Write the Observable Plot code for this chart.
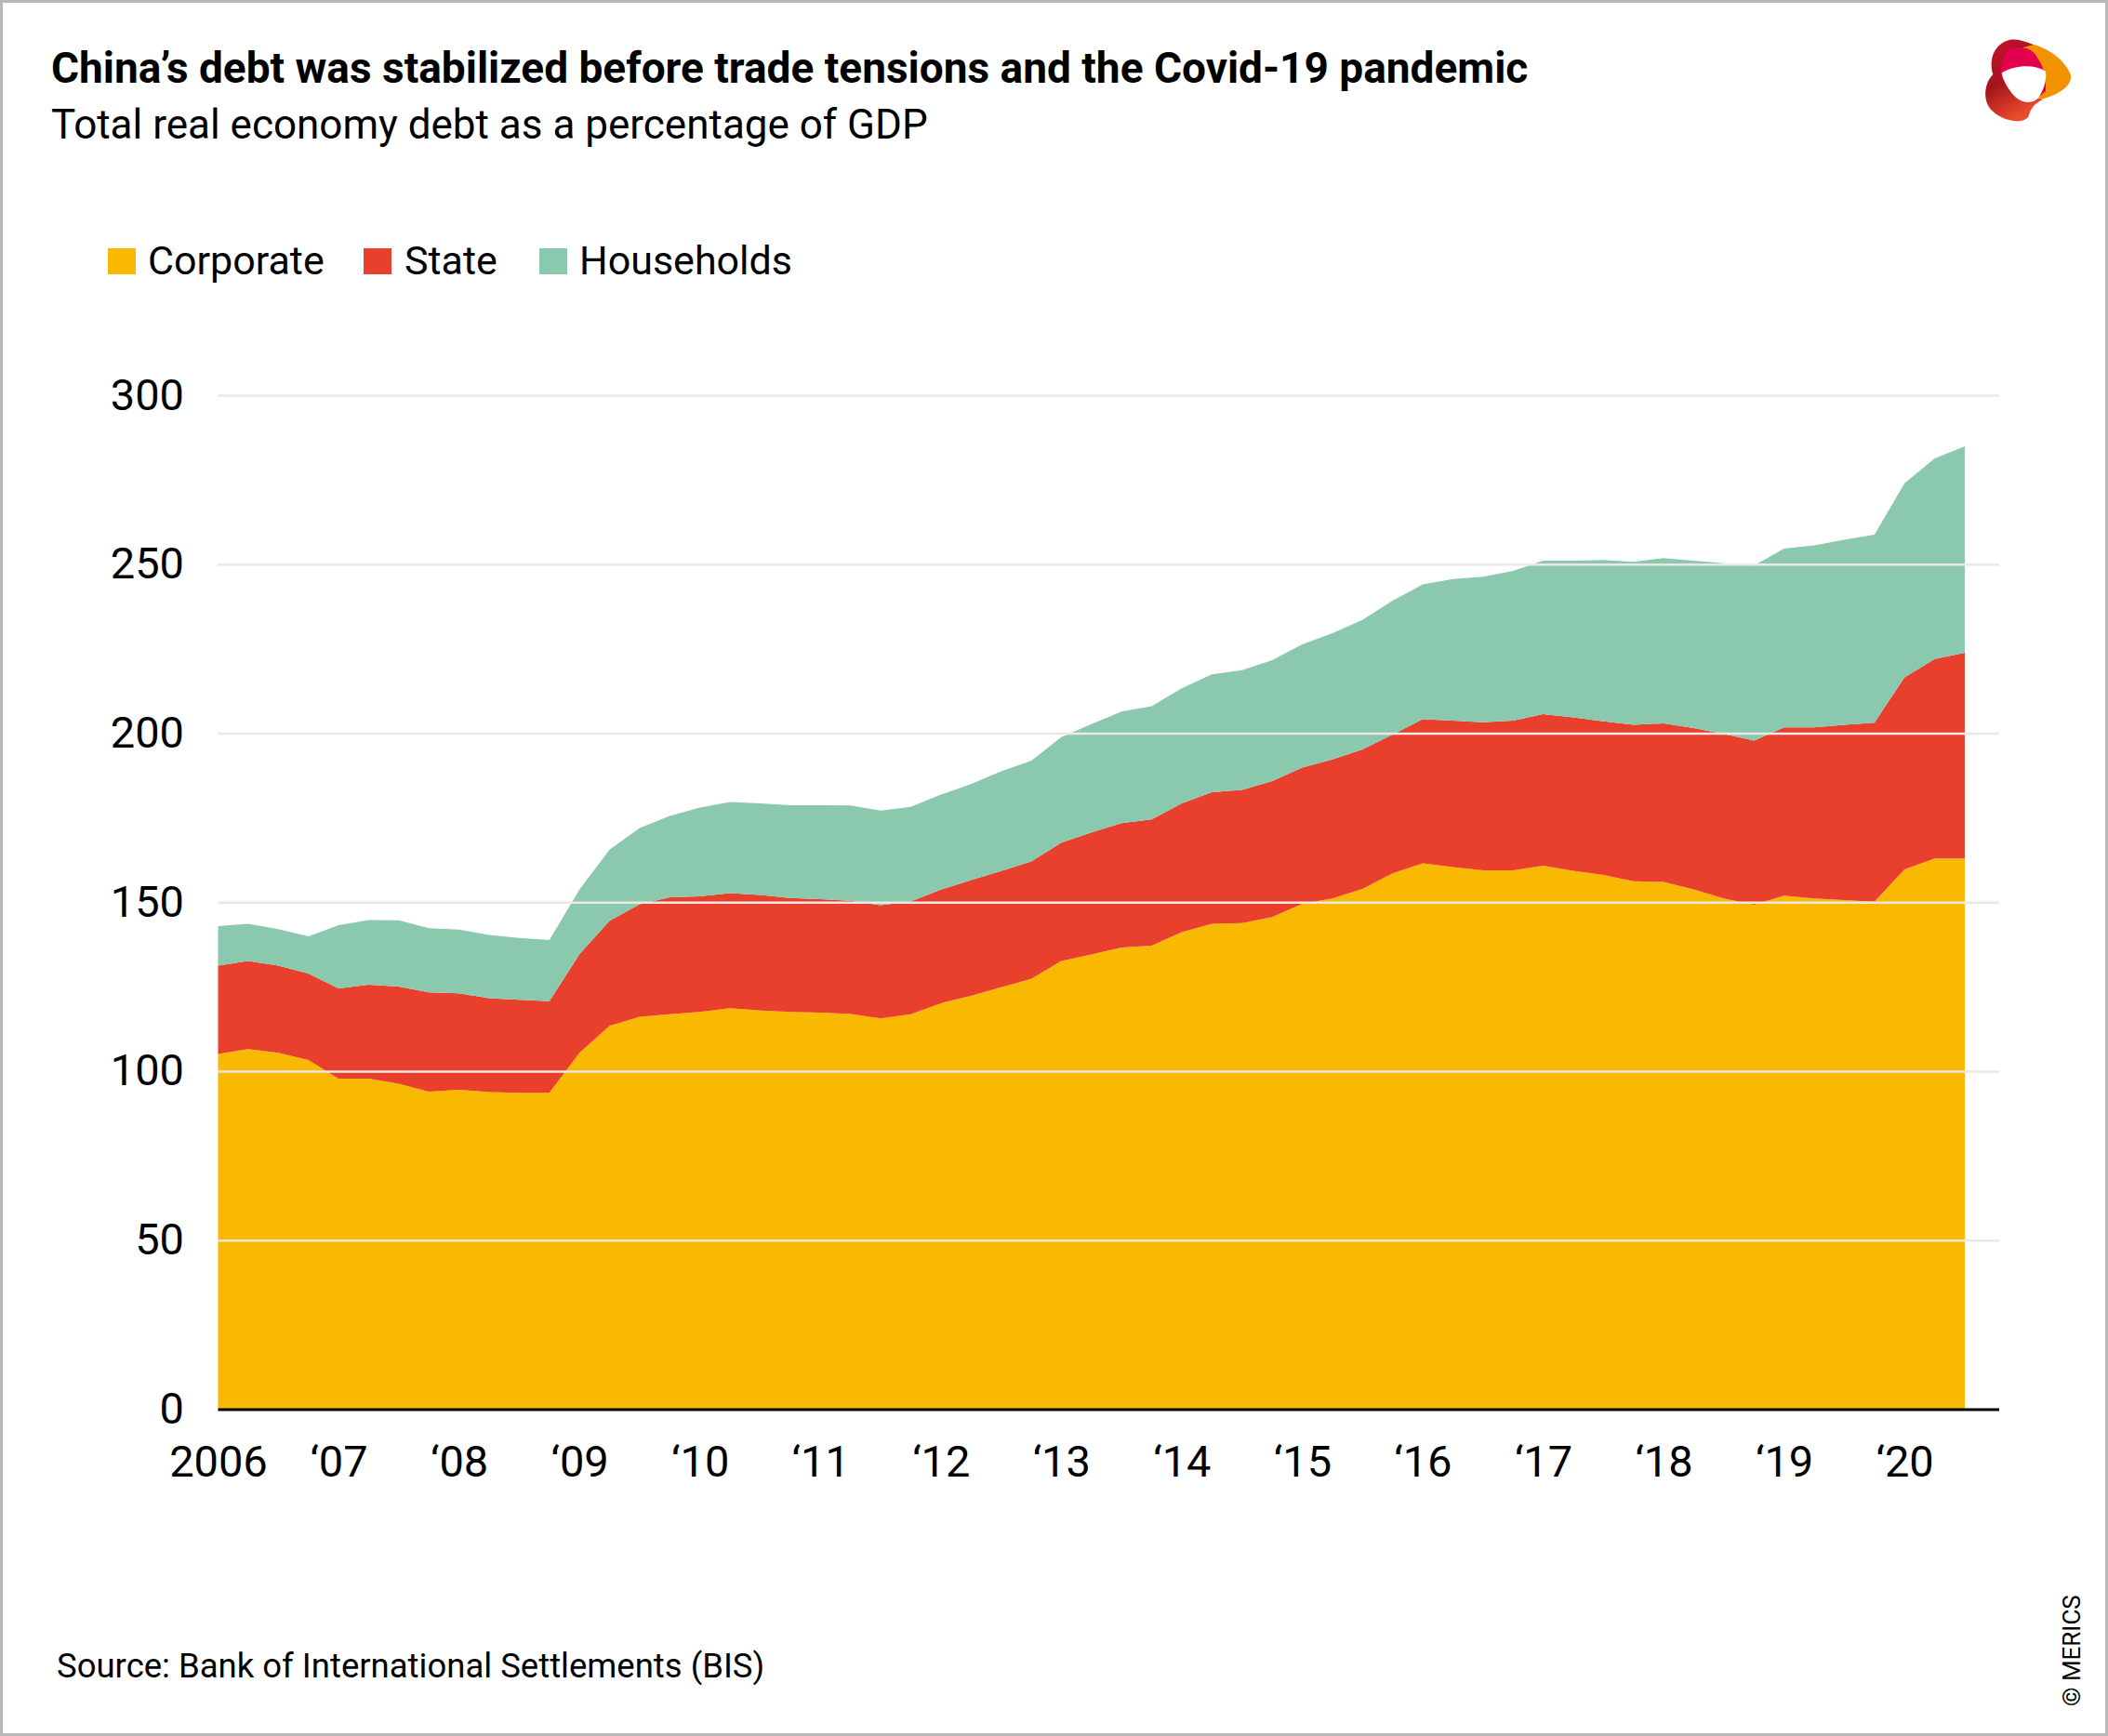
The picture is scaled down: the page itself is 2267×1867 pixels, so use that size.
<!DOCTYPE html>
<html>
<head>
<meta charset="utf-8">
<script src="https://cdn.jsdelivr.net/npm/d3@7"></script>
<script src="https://cdn.jsdelivr.net/npm/@observablehq/plot@0.6"></script>
<style>
  html, body { margin: 0; padding: 0; background: #fff; }
  #page {
    position: relative; width: 2267px; height: 1867px; overflow: hidden;
    box-shadow: inset 0 0 0 3px #b8b8b8;
    font-family: Roboto, "Open Sans", sans-serif; color: #000;
  }
  .txt { position: absolute; white-space: nowrap; line-height: 1; }
  .title { left: 55px; top: 50px; font-size: 46px; font-weight: 700; }
  .subtitle { left: 55px; top: 112px; font-size: 44px; }
  .swatch { position: absolute; width: 30px; height: 28px; top: 267px; }
  .legend { top: 259px; font-size: 43px; }
  .source { left: 61px; top: 1774px; font-size: 36.5px; }
  #chart { position: absolute; left: 0; top: 380px; }
</style>
</head>
<body>
<div id="page">
  <div class="txt title">China’s debt was stabilized before trade tensions and the Covid-19 pandemic</div>
  <div class="txt subtitle">Total real economy debt as a percentage of GDP</div>
  <div id="legend"></div>
  <div id="chart"></div>
  <div class="txt source">Source: Bank of International Settlements (BIS)</div>
  <svg style="position:absolute;left:2200px;top:1700px" width="50" height="160">
    <text transform="translate(37,135) rotate(-90)" font-family="Roboto, sans-serif" font-size="26">© MERICS</text>
  </svg>
  <svg style="position:absolute;left:2100px;top:20px" width="167" height="130" viewBox="0 0 501 390">
    <defs>
      <linearGradient id="rg" x1="0" y1="0" x2="0.4" y2="1">
        <stop offset="0" stop-color="#c8102e"/>
        <stop offset="0.55" stop-color="#a3151c"/>
        <stop offset="1" stop-color="#ea4a2b"/>
      </linearGradient>
    </defs>
    <path d="M190 75 C260 70 350 110 380 180 C390 220 330 250 280 262 L250 200 Z" fill="#f39200"/>
    <path d="M185 68 C120 85 120 150 130 180 C100 210 95 270 130 300 C170 335 230 340 245 315 C250 295 260 275 290 262 C250 250 200 230 160 180 C150 130 190 100 260 85 C230 70 205 65 185 68 Z" fill="url(#rg)"/>
    <path d="M180 100 C220 85 260 95 275 130 C290 150 300 180 300 215 L300 235 C280 250 260 265 240 270 C200 260 165 215 155 180 C155 140 165 110 180 100 Z" fill="#e2004f"/>
    <path d="M158 175 C200 150 260 145 300 170 C305 200 290 240 270 262 C240 280 210 265 190 240 C175 220 160 195 158 175 Z" fill="#fff"/>
  </svg>
</div>
<script>
// quarterly, 2006 Q1 to 2020 Q3, % of GDP
const seriesNames = ["Corporate", "State", "Households"];
const colors = ["#f9b900", "#e8402d", "#8bc9ae"];

const corporate = [
  105.1, 106.5, 105.4, 103.3, 97.8, 97.8, 96.3, 93.9, 94.5, 93.8, 93.6, 93.6,
  105.4, 113.4, 116.1, 116.8, 117.5, 118.6, 117.9, 117.5, 117.3, 116.9, 115.6, 116.8,
  120.1, 122.3, 124.8, 127.3, 132.6, 134.5, 136.6, 137.1, 141.1, 143.6, 143.8, 145.6,
  149.5, 151.1, 153.9, 158.5, 161.5, 160.4, 159.4, 159.4, 160.8, 159.3, 158.0, 156.2,
  156.0, 153.8, 151.1, 149.2, 151.9, 151.1, 150.6, 150.1, 159.7, 162.9, 162.9
];
const state = [
  26.1, 26.1, 25.8, 25.6, 26.7, 27.8, 28.7, 29.4, 28.5, 27.8, 27.5, 27.1,
  29.2, 31.1, 33.3, 34.6, 34.2, 34.1, 34.2, 33.7, 33.6, 33.5, 33.5, 33.4,
  33.6, 34.2, 34.4, 34.7, 35.0, 36.1, 36.8, 37.4, 38.1, 38.9, 39.4, 40.2,
  40.3, 41.1, 41.3, 41.1, 42.6, 43.3, 43.8, 44.3, 44.8, 45.4, 45.5, 46.3,
  46.9, 47.7, 48.7, 48.6, 49.8, 50.6, 51.9, 53.0, 56.8, 59.0, 60.9
];
const households = [
  11.7, 11.0, 10.8, 11.0, 18.7, 19.1, 19.6, 19.0, 18.9, 18.7, 18.3, 18.1,
  19.1, 21.0, 22.5, 24.1, 26.3, 26.9, 27.1, 27.5, 27.8, 28.2, 28.0, 28.0,
  28.1, 28.4, 29.5, 29.8, 31.2, 32.1, 33.0, 33.5, 34.1, 34.9, 35.4, 35.8,
  36.5, 37.4, 38.3, 39.6, 39.9, 41.9, 43.1, 44.3, 45.4, 46.3, 47.7, 48.2,
  48.9, 49.5, 50.5, 51.8, 52.9, 53.9, 54.7, 55.6, 57.4, 59.4, 61.1
];

const years = d3.range(2006, 2021);
const yTicks = [0, 50, 100, 150, 200, 250, 300];

// quarter position on a year axis
const quarters = corporate.map((_, i) => 2006 + i / 4);

const rows = [];
[corporate, state, households].forEach((vals, k) => {
  vals.forEach((v, i) => rows.push({t: quarters[i], series: seriesNames[k], value: v}));
});

// legend
const legendPos = [[116, 159], [391, 435], [580, 623]];
const page = document.getElementById("page");
seriesNames.forEach((name, k) => {
  const sw = document.createElement("div");
  sw.className = "swatch";
  sw.style.left = legendPos[k][0] + "px";
  sw.style.background = colors[k];
  page.appendChild(sw);
  const lb = document.createElement("div");
  lb.className = "txt legend";
  lb.style.left = legendPos[k][1] + "px";
  lb.textContent = name;
  page.appendChild(lb);
});

const chart = Plot.plot({
  width: 2267,
  height: 1260,
  marginTop: 45,
  marginBottom: 124.6,
  marginLeft: 234.5,
  marginRight: 117,
  style: {fontFamily: "Roboto, sans-serif", fontSize: "47px", color: "#000", background: "transparent"},
  x: {
    domain: [2006, 2020.786],
    ticks: years,
    tickFormat: d => d === 2006 ? "2006" : "‘" + String(d).slice(2),
    tickSize: 0,
    tickPadding: 39,
    label: null
  },
  y: {domain: [0, 300], ticks: yTicks, tickSize: 0, tickPadding: 37, label: null},
  color: {domain: seriesNames, range: colors},
  marks: [
    Plot.areaY(rows, {x: "t", y: "value", fill: "series", order: seriesNames}),
    Plot.ruleY(yTicks.filter(d => d > 0), {stroke: "#ece8e3", strokeWidth: 2.5}),
    Plot.ruleY([0], {stroke: "#000", strokeWidth: 3})
  ]
});

document.getElementById("chart").append(chart);
</script>
</body>
</html>
